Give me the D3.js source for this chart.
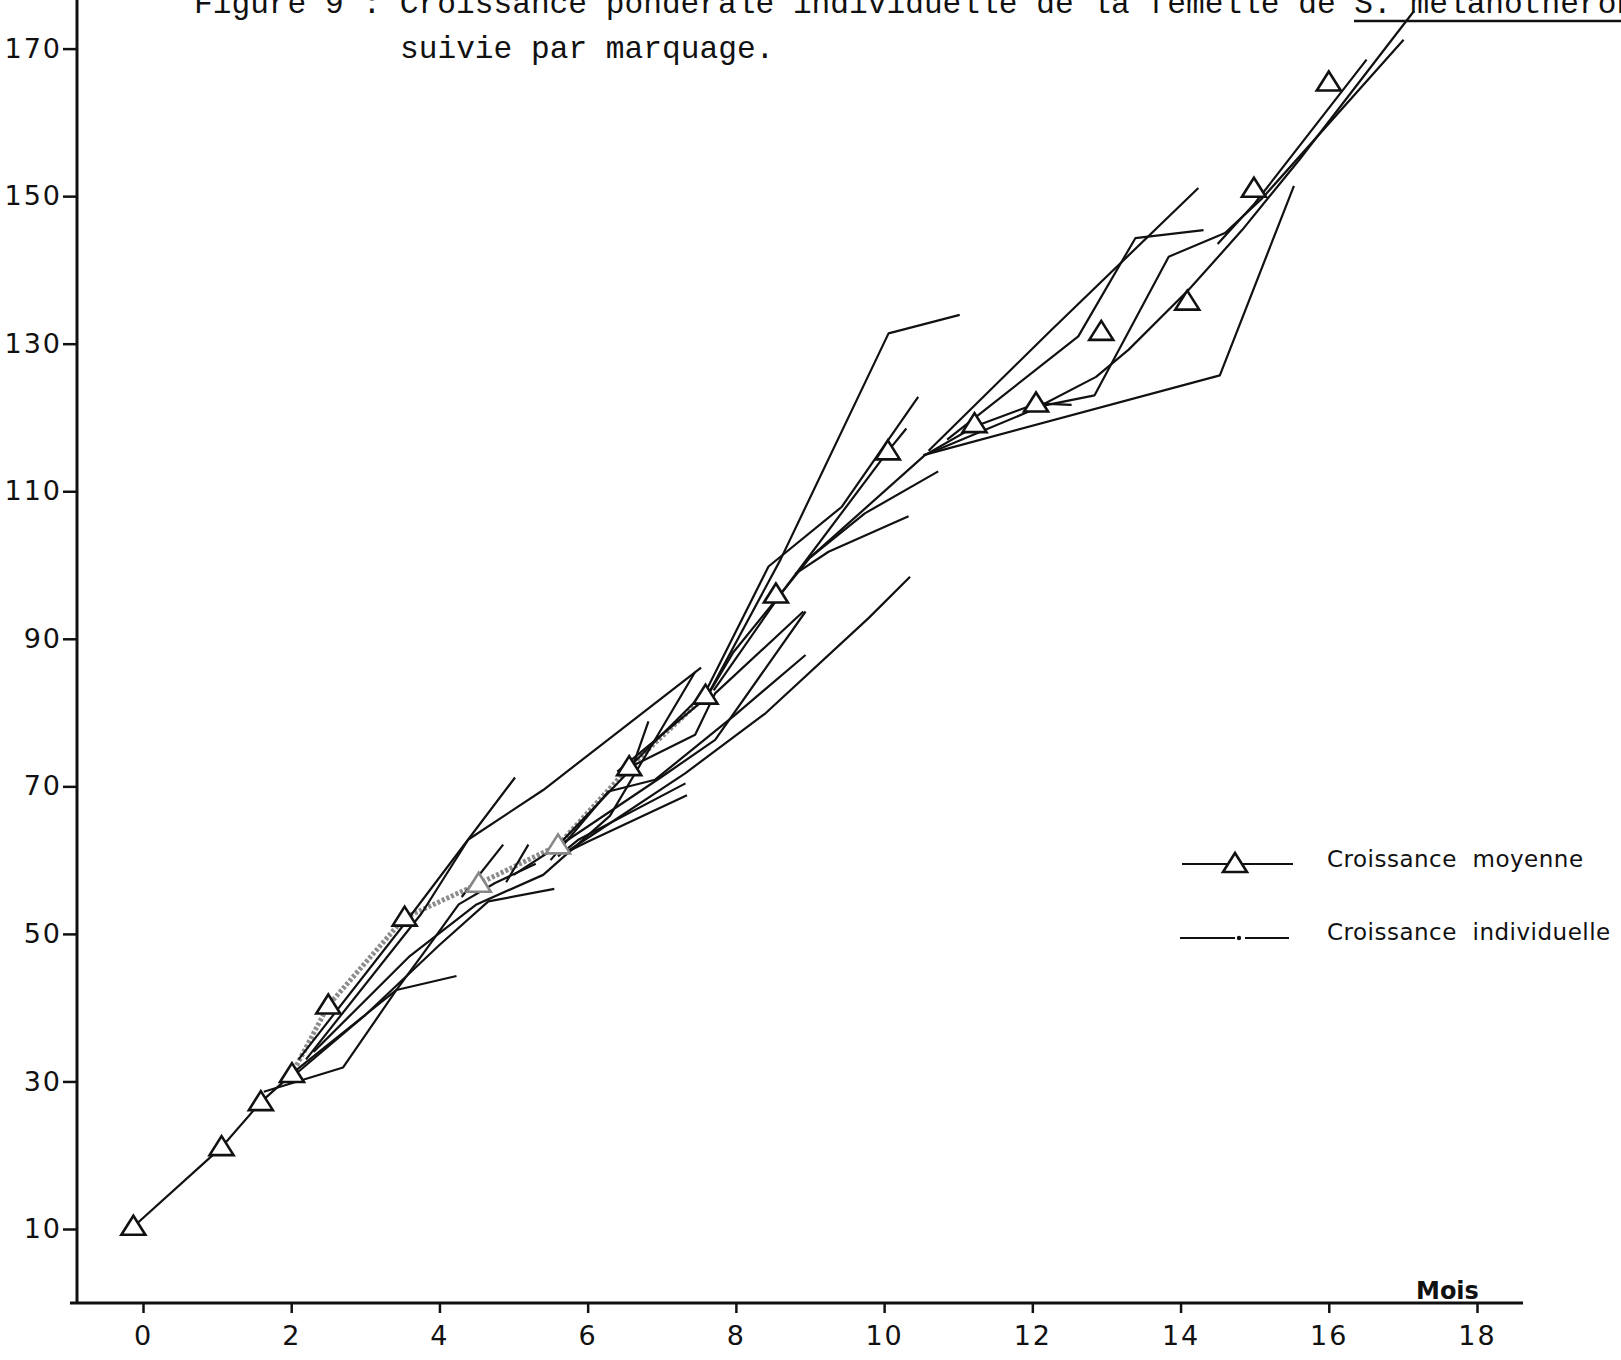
<!DOCTYPE html>
<html>
<head>
<meta charset="utf-8">
<script src="https://cdn.jsdelivr.net/npm/d3@7"></script>
<style>
  body { margin: 0; background: #fff; }
  svg { display: block; }
  .tick text { font-family: "DejaVu Sans", sans-serif; font-size: 27px; fill: #111; letter-spacing: 2px; }
  .tick line { stroke: #111; stroke-width: 2.5; }
  .title { font-family: "Courier New", "Liberation Mono", monospace; font-size: 31.2px; fill: #111; white-space: pre; }
  .legend { font-family: "DejaVu Sans", sans-serif; font-size: 23px; fill: #111; letter-spacing: 0.5px; white-space: pre; }
</style>
</head>
<body>
<svg id="chart"></svg>
<script>
// Axis ticks
const xTicks = [0, 2, 4, 6, 8, 10, 12, 14, 16, 18];
const yTicks = [10, 30, 50, 70, 90, 110, 130, 150, 170];

// Croissance moyenne (triangles): month, weight
const meanMonths  = [-0.13, 1.06, 1.59, 2.01, 2.5, 3.53, 4.53, 5.6, 6.56, 7.59, 8.54, 10.05, 11.22, 12.05, 12.93, 14.09, 14.99, 16.0];
const meanWeights = [10.3, 21.1, 27.2, 31.0, 40.3, 52.2, 56.8, 62.0, 72.6, 82.3, 96.0, 115.4, 119.1, 121.9, 131.6, 135.7, 151.0, 165.4];

// Croissance individuelle: one polyline per marked fish, [month, weight]
const fishLines = [
  [[1.63, 28.6], [2.7, 31.9], [3.42, 42.4], [3.8, 47.6], [4.26, 54], [4.75, 56.9], [5.3, 59.5]],
  [[2.0, 31], [3.42, 42.4], [4.23, 44.3]],
  [[2.0, 30.5], [3.0, 39], [4.0, 48.5], [4.66, 54.4], [5.55, 56.1]],
  [[2.1, 33], [3.5, 51], [5.02, 71.2]],
  [[2.2, 33], [3.76, 52.8], [4.39, 62.8], [5.4, 69.5], [7.53, 86.1]],
  [[2.3, 34], [3.6, 47], [4.5, 54], [5.4, 58], [6.3, 66], [7.45, 85.5]],
  [[4.3, 55], [4.86, 62.1]],
  [[4.9, 57], [5.2, 62.1]],
  [[5.0, 58], [5.74, 62.8], [7.0, 71.3], [7.72, 76.3], [8.94, 93.7]],
  [[5.5, 60], [6.28, 69.3], [6.91, 70.9], [7.99, 79.7], [8.94, 87.8]],
  [[5.7, 61], [7.32, 71.8], [8.4, 79.9], [9.79, 92.8], [10.35, 98.4]],
  [[5.6, 60.5], [5.88, 62.8], [7.32, 70.4]],
  [[5.7, 61], [6.0, 62.5], [7.34, 68.8]],
  [[5.6, 62], [6.6, 72.5], [6.82, 78.8]],
  [[6.55, 72.5], [7.45, 77.0], [7.72, 82.6], [8.91, 93.7]],
  [[6.4, 72], [7.6, 82], [8.6, 100.7], [10.06, 131.4], [11.02, 133.9]],
  [[6.6, 73], [7.6, 83], [8.44, 99.8], [9.43, 107.9], [10.46, 122.8]],
  [[7.7, 83], [8.6, 96], [10.05, 115.4], [10.3, 118.5]],
  [[7.6, 82], [7.96, 88.1], [9.0, 101], [10.55, 114.9]],
  [[9.0, 101], [9.74, 107], [10.73, 112.7]],
  [[8.8, 98.8], [9.25, 101.8], [10.33, 106.6]],
  [[10.53, 114.9], [14.53, 125.7], [15.53, 151.4]],
  [[10.55, 114.9], [11.23, 118.8], [12.06, 121.9], [12.53, 121.7]],
  [[10.6, 115.5], [12.26, 131.9], [14.24, 151.1]],
  [[10.85, 117], [12.62, 131], [13.39, 144.3], [14.31, 145.4]],
  [[10.55, 114.9], [12.0, 121], [12.86, 125.5], [13.3, 129.2], [14.11, 137.3], [14.83, 145.4], [15.6, 154.9], [17.15, 175.1]],
  [[12.0, 121.3], [12.84, 123], [13.84, 141.8], [14.6, 145], [15.1, 149.7], [17.01, 171.2]],
  [[14.5, 143.5], [15.0, 149], [16.51, 168.5]]
];

const W = 1621, H = 1360;
const svg = d3.select('#chart').attr('width', W).attr('height', H);

const x = d3.scaleLinear().domain([0, 18]).range([143, 1477]);
const y = d3.scaleLinear().domain([10, 170]).range([1229, 48.6]);

const means = meanMonths.map((m, i) => [m, meanWeights[i]]);
const line = d3.line().x(d => x(d[0])).y(d => y(d[1]));

// axes
const axisY = 77, axisX = 1303;
svg.append('line')
    .attr('x1', axisY).attr('x2', axisY).attr('y1', 0).attr('y2', axisX + 1)
    .attr('stroke', '#111').attr('stroke-width', 3);
svg.append('line')
    .attr('x1', axisY - 7).attr('x2', 1523).attr('y1', axisX).attr('y2', axisX)
    .attr('stroke', '#111').attr('stroke-width', 3);

const yAxisG = svg.append('g')
    .attr('transform', `translate(${axisY},0)`)
    .call(d3.axisLeft(y).tickValues(yTicks).tickSize(14).tickPadding(1));
const xAxisG = svg.append('g')
    .attr('transform', `translate(0,${axisX})`)
    .call(d3.axisBottom(x).tickValues(xTicks).tickSize(10).tickPadding(13));
svg.selectAll('.domain').remove();

svg.append('text')
    .attr('x', 1416).attr('y', 1299)
    .attr('font-family', '"DejaVu Sans", sans-serif')
    .attr('font-size', 24).attr('font-weight', 'bold').attr('fill', '#111')
    .text('Mois');

// title (top line cut by the page edge, as in the scan)
svg.append('text').attr('class', 'title').attr('x', 194).attr('y', 13)
    .text('Figure 9 : Croissance pondérale individuelle de la femelle de S. melanotheron');
svg.append('text').attr('class', 'title').attr('x', 400).attr('y', 58)
    .text('suivie par marquage.');
svg.append('line')
    .attr('x1', 1354).attr('x2', W).attr('y1', 21).attr('y2', 21)
    .attr('stroke', '#111').attr('stroke-width', 2.5);

// faint hatched trace along the mean between 2 and 7.6 months
svg.append('path')
    .datum(means.slice(3, 10))
    .attr('d', line)
    .attr('fill', 'none')
    .attr('stroke', '#8c8c8c')
    .attr('stroke-width', 5)
    .attr('stroke-dasharray', '3 2');

// individual growth lines
svg.append('g').selectAll('path')
    .data(fishLines)
  .join('path')
    .attr('d', line)
    .attr('fill', 'none')
    .attr('stroke', '#111')
    .attr('stroke-width', 2.2)
    .attr('stroke-linejoin', 'round');

// mean curve start (0 -> 2 months)
svg.append('path')
    .datum(means.slice(0, 4))
    .attr('d', line)
    .attr('fill', 'none')
    .attr('stroke', '#111')
    .attr('stroke-width', 2.2);

const tri = 'M0,-11L12,8L-12,8Z';
svg.append('g').selectAll('path')
    .data(means)
  .join('path')
    .attr('d', tri)
    .attr('transform', d => `translate(${x(d[0])},${y(d[1])})`)
    .attr('fill', '#fff')
    .attr('stroke', (d, i) => (i === 6 || i === 7) ? '#888' : '#111')
    .attr('stroke-width', 2.6)
    .attr('stroke-linejoin', 'miter');

// legend
const lg = svg.append('g');
lg.append('line').attr('x1', 1182).attr('x2', 1293).attr('y1', 864).attr('y2', 864)
    .attr('stroke', '#111').attr('stroke-width', 2);
lg.append('path').attr('d', tri).attr('transform', 'translate(1235,864)')
    .attr('fill', '#fff').attr('stroke', '#111').attr('stroke-width', 2.6);
lg.append('text').attr('class', 'legend').attr('x', 1327).attr('y', 867)
    .text('Croissance  moyenne');

lg.append('line').attr('x1', 1180).attr('x2', 1235).attr('y1', 938).attr('y2', 938)
    .attr('stroke', '#111').attr('stroke-width', 2);
lg.append('circle').attr('cx', 1239).attr('cy', 938).attr('r', 2.2).attr('fill', '#111');
lg.append('line').attr('x1', 1245).attr('x2', 1289).attr('y1', 938).attr('y2', 938)
    .attr('stroke', '#111').attr('stroke-width', 2);
lg.append('text').attr('class', 'legend').attr('x', 1327).attr('y', 940)
    .text('Croissance  individuelle');
</script>
</body>
</html>
